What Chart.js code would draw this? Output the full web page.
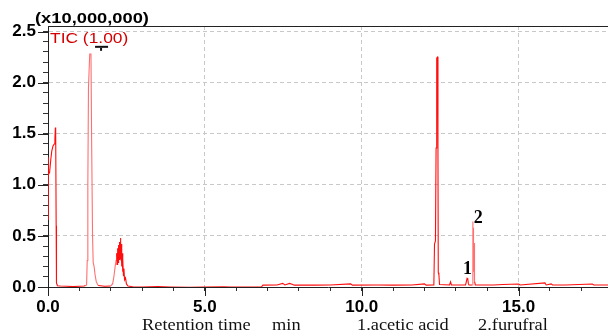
<!DOCTYPE html>
<html>
<head>
<meta charset="utf-8">
<script src="https://cdn.jsdelivr.net/npm/chart.js@4.4.1/dist/chart.umd.min.js"></script>
<style>
  body { margin: 0; background: #fff; }
  canvas { display: block; }
</style>
</head>
<body>
<canvas id="ticChart" width="608" height="336"></canvas>
<script>
// retention time (min) and TIC intensity (x10,000,000)
const rtMin = [
  0.000, 0.005, 0.015, 0.050, 0.090, 0.120, 0.160, 0.200, 0.220, 0.235, 0.245, 0.260, 0.270, 0.300,
  0.400, 0.600, 0.800, 1.000, 1.150, 1.200,
  1.230, 1.250, 1.270, 1.290, 1.330, 1.370, 1.390, 1.420, 1.440, 1.470, 1.500, 1.540, 1.600, 1.800,
  2.000, 2.060, 2.100, 2.140, 2.170, 2.190, 2.200, 2.220, 2.235, 2.250, 2.265, 2.280, 2.295, 2.310,
  2.320, 2.335, 2.350, 2.360, 2.375, 2.390, 2.405, 2.420, 2.440, 2.470, 2.500, 2.550, 2.700,
  3.000, 3.500, 3.900, 4.500, 5.000, 5.600, 5.800, 6.800,
  6.850, 7.300, 7.480, 7.550, 7.700, 7.800, 7.850, 8.500, 9.000, 9.650, 9.700, 10.500, 11.000,
  11.600, 12.000, 12.050, 12.280,
  12.300, 12.320, 12.350, 12.370, 12.390, 12.420, 12.430, 12.440, 12.460, 12.480,
  12.800, 12.830, 12.860, 13.310, 13.340, 13.360, 13.380, 13.400, 13.420,
  13.520, 13.540, 13.545, 13.550, 13.555, 13.565, 13.570, 13.580, 13.590, 13.600, 13.620,
  14.200, 14.500, 15.000, 15.050, 15.840, 15.880, 16.040, 16.080, 16.500, 17.350, 17.400, 17.850
];
const ticVal = [
  0.66, 1.27, 1.10, 1.12, 1.25, 1.33, 1.38, 1.40, 1.45, 1.56, 1.50, 0.60, 0.04, 0.012,
  0.010, 0.008, 0.004, 0.008, 0.010, 0.015,
  0.02, 0.26, 1.00, 1.95, 2.28, 2.28, 1.45, 0.50, 0.24, 0.20, 0.12, 0.05, 0.015, 0.008,
  0.010, 0.03, 0.10, 0.20, 0.26, 0.33, 0.22, 0.38, 0.24, 0.41, 0.27, 0.44, 0.30, 0.48,
  0.28, 0.42, 0.20, 0.33, 0.15, 0.27, 0.11, 0.18, 0.07, 0.09, 0.03, 0.01, 0.003,
  0.000, 0.004, 0.000, -0.003, 0.000, 0.003, 0.000, 0.000,
  0.018, 0.020, 0.035, 0.020, 0.035, 0.025, 0.018, 0.018, 0.020, 0.030, 0.018, 0.020, 0.018,
  0.020, 0.030, 0.018, 0.020,
  0.03, 0.42, 0.45, 1.36, 2.24, 2.25, 1.30, 0.14, 0.12, 0.025,
  0.020, 0.050, 0.020, 0.020, 0.060, 0.085, 0.080, 0.030, 0.020,
  0.02, 0.64, 0.10, 0.58, 0.15, 0.45, 0.20, 0.43, 0.38, 0.05, 0.02,
  0.020, 0.025, 0.030, 0.020, 0.040, 0.020, 0.030, 0.020, 0.020, 0.030, 0.020, 0.020
];

const xMajorTicks = [0, 5, 10, 15];
const yMajorTicks = [0, 0.5, 1.0, 1.5, 2.0, 2.5];
const peakNames = ['1', '2'];
const peakTimes = [13.37, 13.54];
const peakHeights = [0.085, 0.64];
const footNotes = ['Retention time', 'min', '1.acetic acid', '2.furufral'];
// stretches of the trace that print paler in the original
const paleRanges = [[1.2, 1.65], [2.0, 2.19], [13.52, 13.6]];

function isMajor(v, list) {
    return list.some(m => Math.abs(m - v) < 1e-6);
}

function stretchText(ctx, str, x, y, sx) {
    ctx.save();
    ctx.translate(x, y);
    ctx.scale(sx, 1);
    ctx.fillText(str, 0, 0);
    ctx.restore();
}

// extra bits the shimadzu style plot has: frame top, long ticks, labels
const chromDecor = {
    id: 'chromDecor',
    afterDraw(chart) {
        const ctx = chart.ctx;
        const a = chart.chartArea;
        const xs = chart.scales.x, ys = chart.scales.y;
        ctx.save();

        ctx.strokeStyle = '#222';
        ctx.lineWidth = 1;
        ctx.beginPath();
        ctx.moveTo(a.left, a.top + 0.5);
        ctx.lineTo(a.right, a.top + 0.5);
        xMajorTicks.forEach(v => {
            const px = Math.round(xs.getPixelForValue(v)) + 0.5;
            ctx.moveTo(px, a.bottom);
            ctx.lineTo(px, a.bottom + 9);
        });
        yMajorTicks.forEach(v => {
            const py = Math.round(ys.getPixelForValue(v)) + 0.5;
            ctx.moveTo(a.left - 10, py);
            ctx.lineTo(a.left, py);
        });
        ctx.stroke();

        ctx.textBaseline = 'alphabetic';
        ctx.textAlign = 'left';
        ctx.fillStyle = '#000';
        ctx.font = 'bold 15px "Liberation Sans", Arial, sans-serif';
        stretchText(ctx, '(x10,000,000)', 35, 22.5, 1.22);

        ctx.fillStyle = '#d40000';
        ctx.font = '15px "Liberation Sans", Arial, sans-serif';
        stretchText(ctx, 'TIC (1.00)', 50, 42.5, 1.16);

        // little marker above the big early peak
        ctx.fillStyle = '#111';
        const mx = xs.getPixelForValue(1.5);
        const my = ys.getPixelForValue(2.36);
        ctx.fillRect(mx, my, 13, 2);
        ctx.fillRect(mx + 5, my + 2, 2, 3);

        // peak numbers
        ctx.fillStyle = '#000';
        ctx.font = 'bold 18px "Liberation Serif", "Times New Roman", serif';
        ctx.textAlign = 'center';
        ctx.fillText(peakNames[0], xs.getPixelForValue(peakTimes[0]), ys.getPixelForValue(peakHeights[0]) - 4);
        ctx.textAlign = 'left';
        ctx.fillText(peakNames[1], xs.getPixelForValue(peakTimes[1]) + 1, ys.getPixelForValue(peakHeights[1]) + 1);

        // axis caption and compound key
        ctx.fillStyle = '#111';
        ctx.font = '17px "Liberation Serif", "Times New Roman", serif';
        const noteX = [142, 272, 357, 478];
        footNotes.forEach((s, i) => stretchText(ctx, s, noteX[i], 330, 1.08));

        ctx.restore();
    }
};

window.onload = function() {
    const ticCtx = document.getElementById('ticChart').getContext('2d');

    new Chart(ticCtx, {
        type: 'line',
        data: {
            datasets: [{
                label: 'TIC',
                data: rtMin.map((t, i) => ({ x: t, y: ticVal[i] })),
                borderColor: '#ff0d0d',
                borderWidth: 1.1,
                pointRadius: 0,
                tension: 0,
                fill: false,
                segment: {
                    borderColor: s => paleRanges.some(r => s.p0.parsed.x >= r[0] && s.p1.parsed.x <= r[1]) ? '#ff7070' : undefined
                }
            }]
        },
        options: {
            responsive: false,
            animation: false,
            layout: {
                padding: { top: 26, left: 0, right: 0, bottom: 0 }
            },
            plugins: {
                legend: { display: false },
                tooltip: { enabled: false }
            },
            scales: {
                x: {
                    type: 'linear',
                    min: 0,
                    max: 17.85,
                    afterFit: function(scale) { scale.height = 49; },
                    ticks: {
                        stepSize: 1,
                        autoSkip: false,
                        maxRotation: 0,
                        includeBounds: false,
                        padding: 6,
                        color: '#000',
                        font: { family: '"Liberation Sans", Arial, sans-serif', size: 17, weight: 'bold' },
                        callback: function(v) { return isMajor(v, xMajorTicks) ? v.toFixed(1) : ''; }
                    },
                    grid: {
                        color: c => (c.tick && c.tick.value > 0 && isMajor(c.tick.value, xMajorTicks)) ? '#c8c8c8' : 'rgba(0,0,0,0)',
                        tickColor: '#333',
                        tickLength: 4,
                        lineWidth: 1
                    },
                    border: { display: true, color: '#222', width: 1, dash: [4, 3] }
                },
                y: {
                    min: 0,
                    max: 2.554,
                    afterFit: function(scale) { scale.width = 48; },
                    ticks: {
                        stepSize: 0.1,
                        autoSkip: false,
                        includeBounds: false,
                        padding: 7,
                        color: '#000',
                        font: { family: '"Liberation Sans", Arial, sans-serif', size: 17, weight: 'bold' },
                        callback: function(v) { return isMajor(v, yMajorTicks) ? v.toFixed(1) : ''; }
                    },
                    grid: {
                        color: c => (c.tick && c.tick.value > 0.01 && isMajor(c.tick.value, yMajorTicks)) ? '#c8c8c8' : 'rgba(0,0,0,0)',
                        tickColor: '#333',
                        tickLength: 5,
                        lineWidth: 1
                    },
                    border: { display: true, color: '#222', width: 1, dash: [4, 3] }
                }
            }
        },
        plugins: [chromDecor]
    });
};
</script>
</body>
</html>
